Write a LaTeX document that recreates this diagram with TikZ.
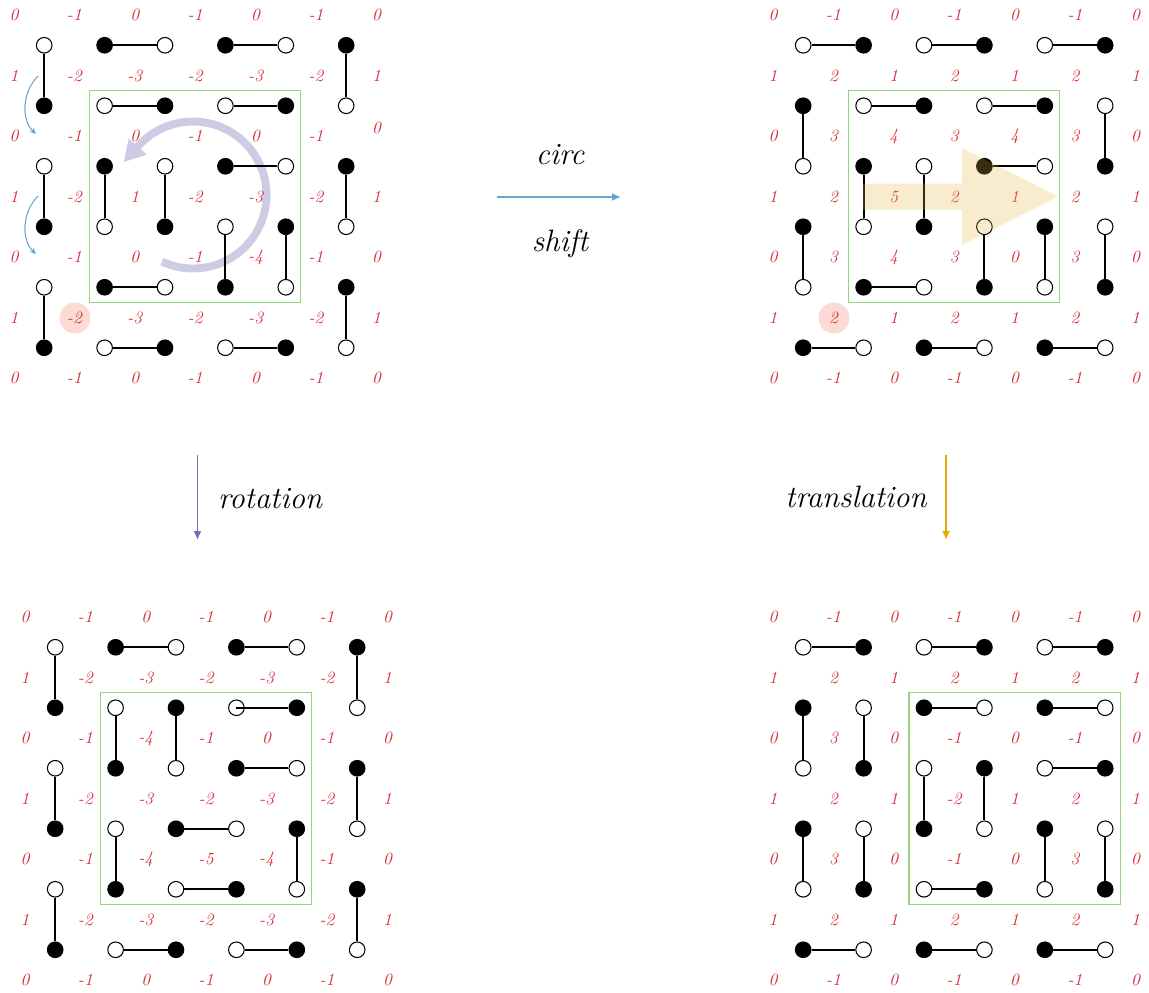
\documentclass[tikz,border=0pt]{standalone}
\usetikzlibrary{arrows.meta,calc}
\definecolor{labred}{RGB}{215,48,58}
\definecolor{boxgreen}{RGB}{150,212,125}
\definecolor{pinkhl}{RGB}{252,219,213}
\definecolor{dpurple}{RGB}{117,112,179}
\definecolor{lavender}{RGB}{206,204,228}
\definecolor{dyellow}{RGB}{230,171,2}
\definecolor{beige}{RGB}{232,180,60}
\definecolor{cblue}{RGB}{103,165,205}
\newcommand\dimerpanel[4]{%
  \foreach \vc in {0,...,5}{\foreach \vr in {0,...,5}{%
    \pgfmathtruncatemacro\pp{mod(\vc+\vr,2)}%
    \ifnum\pp=1
      \node[bv] (#1-\vc-\vr) at ({#2+(\vc+0.5)*60.4},{#3+(\vr+0.5)*60.5}) {};
    \else
      \node[wv] (#1-\vc-\vr) at ({#2+(\vc+0.5)*60.4},{#3+(\vr+0.5)*60.5}) {};
    \fi
  }}%
  \foreach \row [count=\lj from 0] in {#4}{%
    \foreach \v [count=\li from 0] in \row{%
      \node[lab] (#1-l-\li-\lj) at ({#2+\li*60.4},{#3+\lj*60.5}) {\v};
    }}%
}
\newcommand\dimerlist[2]{%
  \foreach \xa/\ya/\xb/\yb in {#2}{\draw[dimer] (#1-\xa-\ya) -- (#1-\xb-\yb);}%
}
\begin{document}
\begin{tikzpicture}[x=0.02cm,y=-0.02cm,
  vtx/.style={circle,draw=black,line width=0.6pt,minimum size=0.312cm,inner sep=0pt},
  wv/.style={vtx,fill=white},
  bv/.style={vtx,fill=black},
  dimer/.style={line width=1.05pt},
  lab/.style={text=labred,font=\fontsize{9.8}{11}\selectfont\itshape,inner sep=0pt},
  box/.style={draw=boxgreen,line width=0.7pt},
  big/.style={font=\fontsize{17.6}{20}\selectfont\itshape,inner sep=0pt},
  hl/.style={fill=pinkhl},
  link/.style={line width=0.9pt,-{Latex[length=5pt,width=4.5pt]}},
  flip/.style={cblue,line width=0.6pt,-{Stealth[length=3.5pt,width=3pt]}},
]
\useasboundingbox (0,0) rectangle (1149,992);

% highlights behind labels
\fill[hl] (75,318) circle[radius=0.31cm];
\fill[hl] (834,318) circle[radius=0.31cm];

% rotation arc (behind the dimers)
\coordinate (rc) at (193,195);
\draw[lavender,line width=4.5pt,-{Triangle[length=12pt,width=13pt]}]
  ($(rc)+(245:1.47cm)$) arc[start angle=245,end angle=498,radius=1.47cm] -- ++(228:0.44cm);

% panels
\dimerpanel{TL}{14}{15}{{0,-1,0,-1,0,-1,0},{1,-2,-3,-2,-3,-2,1},{0,-1,0,-1,0,-1,\raisebox{4.5pt}[\height][\depth]{0}},{1,-2,1,-2,-3,-2,1},{0,-1,0,-1,-4,-1,0},{1,-2,-3,-2,-3,-2,1},{0,-1,0,-1,0,-1,0}}
\dimerpanel{TR}{773}{15}{{0,-1,0,-1,0,-1,0},{1,2,1,2,1,2,1},{0,3,4,3,4,3,0},{1,2,5,2,1,2,1},{0,3,4,3,0,3,0},{1,2,1,2,1,2,1},{0,-1,0,-1,0,-1,0}}
\dimerpanel{BL}{25}{617}{{0,-1,0,-1,0,-1,0},{1,-2,-3,-2,-3,-2,1},{0,-1,-4,-1,0,-1,0},{1,-2,-3,-2,-3,-2,1},{0,-1,-4,-5,-4,-1,0},{1,-2,-3,-2,-3,-2,1},{0,-1,0,-1,0,-1,0}}
\dimerpanel{BR}{773}{617}{{0,-1,0,-1,0,-1,0},{1,2,1,2,1,2,1},{0,3,0,-1,0,-1,0},{1,2,1,-2,1,2,1},{0,3,0,-1,0,3,0},{1,2,1,2,1,2,1},{0,-1,0,-1,0,-1,0}}

% dimers
\dimerlist{TL}{0/0/0/1,1/0/2/0,3/0/4/0,5/0/5/1,1/1/2/1,3/1/4/1,0/2/0/3,1/2/1/3,2/2/2/3,3/2/4/2,5/2/5/3,3/3/3/4,4/3/4/4,0/4/0/5,1/4/2/4,5/4/5/5,1/5/2/5,3/5/4/5}
\dimerlist{TR}{0/0/1/0,2/0/3/0,4/0/5/0,0/1/0/2,1/1/2/1,3/1/4/1,5/1/5/2,1/2/1/3,2/2/2/3,3/2/4/2,0/3/0/4,3/3/3/4,4/3/4/4,5/3/5/4,1/4/2/4,0/5/1/5,2/5/3/5,4/5/5/5}
\dimerlist{BL}{0/0/0/1,1/0/2/0,3/0/4/0,5/0/5/1,1/1/1/2,2/1/2/2,0/2/0/3,3/2/4/2,5/2/5/3,1/3/1/4,2/3/3/3,4/3/4/4,0/4/0/5,2/4/3/4,5/4/5/5,1/5/2/5,3/5/4/5}
\draw[dimer] (BL-3-1.center) -- (BL-4-1);
\dimerlist{BR}{0/0/1/0,2/0/3/0,4/0/5/0,0/1/0/2,1/1/1/2,2/1/3/1,4/1/5/1,2/2/2/3,3/2/3/3,4/2/5/2,0/3/0/4,1/3/1/4,4/3/4/4,5/3/5/4,2/4/3/4,0/5/1/5,2/5/3/5,4/5/5/5}

% green frames
\draw[box] ($(TL-1-1)+(-15,-15)$) rectangle ($(TL-4-4)+(15,15)$);
\draw[box] ($(TR-1-1)+(-15,-15)$) rectangle ($(TR-4-4)+(15,15)$);
\draw[box] ($(BL-1-1)+(-15,-15)$) rectangle ($(BL-4-4)+(15,15)$);
\draw[box] ($(BR-2-1)+(-15,-15)$) rectangle ($(BR-5-4)+(15,15)$);

% small flip arrows
\coordinate (f1a) at (38,76);  \coordinate (f1b) at (36,134);
\coordinate (f2a) at (38,196); \coordinate (f2b) at (36,254);
\draw[flip] (f1a) .. controls (22,92) and (21,120) .. (f1b);
\draw[flip] (f2a) .. controls (22,212) and (21,240) .. (f2b);

% translation arrow
\fill[beige,opacity=0.25] (863,183.5) -- (962,183.5) -- (962,148) -- (1058,196.5)
  -- (962,245) -- (962,209.5) -- (863,209.5) -- cycle;

% maps between panels
\coordinate (cs1) at (497,197); \coordinate (cs2) at (621,197);
\draw[link,cblue] (cs1) -- (cs2);
\node[big] (circ) at (560,155) {circ};
\node[big] (shift) at (560,244) {shift};
\coordinate (ro1) at (197.5,455); \coordinate (ro2) at (197.5,540);
\draw[link,dpurple] (ro1) -- (ro2);
\node[big] (rot) at (270,499) {rotation};
\coordinate (tr1) at (946,455); \coordinate (tr2) at (946,540);
\draw[link,dyellow] (tr1) -- (tr2);
\node[big] (trans) at (856,497) {translation};
\end{tikzpicture}
\end{document}
